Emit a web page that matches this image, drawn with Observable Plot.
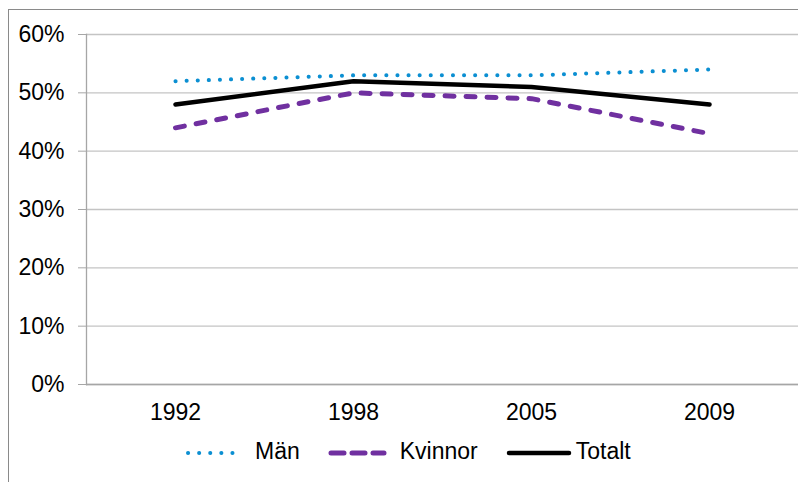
<!DOCTYPE html>
<html>
<head>
<meta charset="utf-8">
<script src="https://cdn.jsdelivr.net/npm/d3@7"></script>
<script src="https://cdn.jsdelivr.net/npm/@observablehq/plot@0.6"></script>
<style>
  html, body { margin: 0; padding: 0; background: #fff; }
  body { position: relative; width: 798px; height: 482px; overflow: hidden; font-family: "Liberation Sans", Arial, sans-serif; }
  #frame { position: absolute; left: 8px; top: 9px; width: 800px; height: 480px; border-left: 1px solid #8a8a8a; border-top: 1px solid #8a8a8a; }
  #chart { position: absolute; left: 0; top: 0; }
  #legend { position: absolute; left: 185px; top: 438px; height: 26px; display: flex; align-items: flex-start; font-size: 23px; line-height: 26px; color: #000; }
  #legend .sw { display: block; height: 26px; }
  #legend span { display: block; height: 26px; white-space: nowrap; }
</style>
</head>
<body>
<div id="frame"></div>
<div id="chart"></div>
<div id="legend"></div>
<script>
const years = ["1992", "1998", "2005", "2009"];
const man = [52, 53, 53, 54];
const kvinnor = [44, 50, 49, 43];
const totalt = [48, 52, 51, 48];
const yTicks = [0, 10, 20, 30, 40, 50, 60];

const seriesNames = ["Män", "Kvinnor", "Totalt"];
const seriesColors = ["#0b8fd2", "#7030a0", "#000000"];

const data = years.map((y, i) => ({year: y, man: man[i], kvinnor: kvinnor[i], totalt: totalt[i]}));

const gray = "#a6a6a6";

const chart = Plot.plot({
  width: 798,
  height: 430,
  marginLeft: 86,
  marginRight: 0,
  marginTop: 34,
  marginBottom: 46,
  style: {fontFamily: '"Liberation Sans", Arial, sans-serif', fontSize: "23px", color: "#000", background: "transparent"},
  x: {type: "point", domain: years, padding: 0.5, label: null},
  y: {domain: [0, 60], ticks: yTicks, tickFormat: d => d + "%", label: null},
  marks: [
    Plot.gridY(yTicks, {stroke: "#c4c4c4", strokeOpacity: 1, strokeWidth: 1.3}),
    Plot.frame({anchor: "left", stroke: gray, strokeWidth: 1.3}),
    Plot.ruleY([0], {stroke: gray, strokeWidth: 1.5}),
    Plot.axisY(yTicks, {tickSize: 8, tickPadding: 14, stroke: gray, fill: "#000", tickFormat: d => d + "%", label: null}),
    Plot.axisX({tickSize: 0, tickPadding: 19, fill: "#000", label: null}),
    Plot.line(data, {x: "year", y: "kvinnor", stroke: seriesColors[1], strokeWidth: 5, strokeDasharray: "9 12", strokeLinecap: "round"}),
    Plot.line(data, {x: "year", y: "totalt", stroke: seriesColors[2], strokeWidth: 4.5}),
    Plot.line(data, {x: "year", y: "man", stroke: seriesColors[0], strokeWidth: 4, strokeDasharray: "0.1 11", strokeLinecap: "round"})
  ]
});
document.getElementById("chart").appendChild(chart);

// Legend
const legend = d3.select("#legend");
const swatchSpecs = [
  {w: 58, dash: "0.1 11", width: 4, cap: "round", gapAfter: 12, textGap: 28},
  {w: 59, dash: "13 8", width: 5, cap: "round", gapAfter: 13, textGap: 28},
  {w: 66, dash: null, width: 4.5, cap: "round", gapAfter: 4, textGap: 0}
];
seriesNames.forEach((name, i) => {
  const s = swatchSpecs[i];
  const svg = legend.append("svg").attr("class", "sw").attr("width", s.w).attr("height", 26)
    .style("margin-right", s.gapAfter + "px");
  const ln = svg.append("line").attr("x1", 3).attr("x2", s.w - 3).attr("y1", 15).attr("y2", 15)
    .attr("stroke", seriesColors[i]).attr("stroke-width", s.width).attr("stroke-linecap", s.cap);
  if (s.dash) ln.attr("stroke-dasharray", s.dash);
  legend.append("span").text(name).style("margin-right", s.textGap + "px");
});
</script>
</body>
</html>
